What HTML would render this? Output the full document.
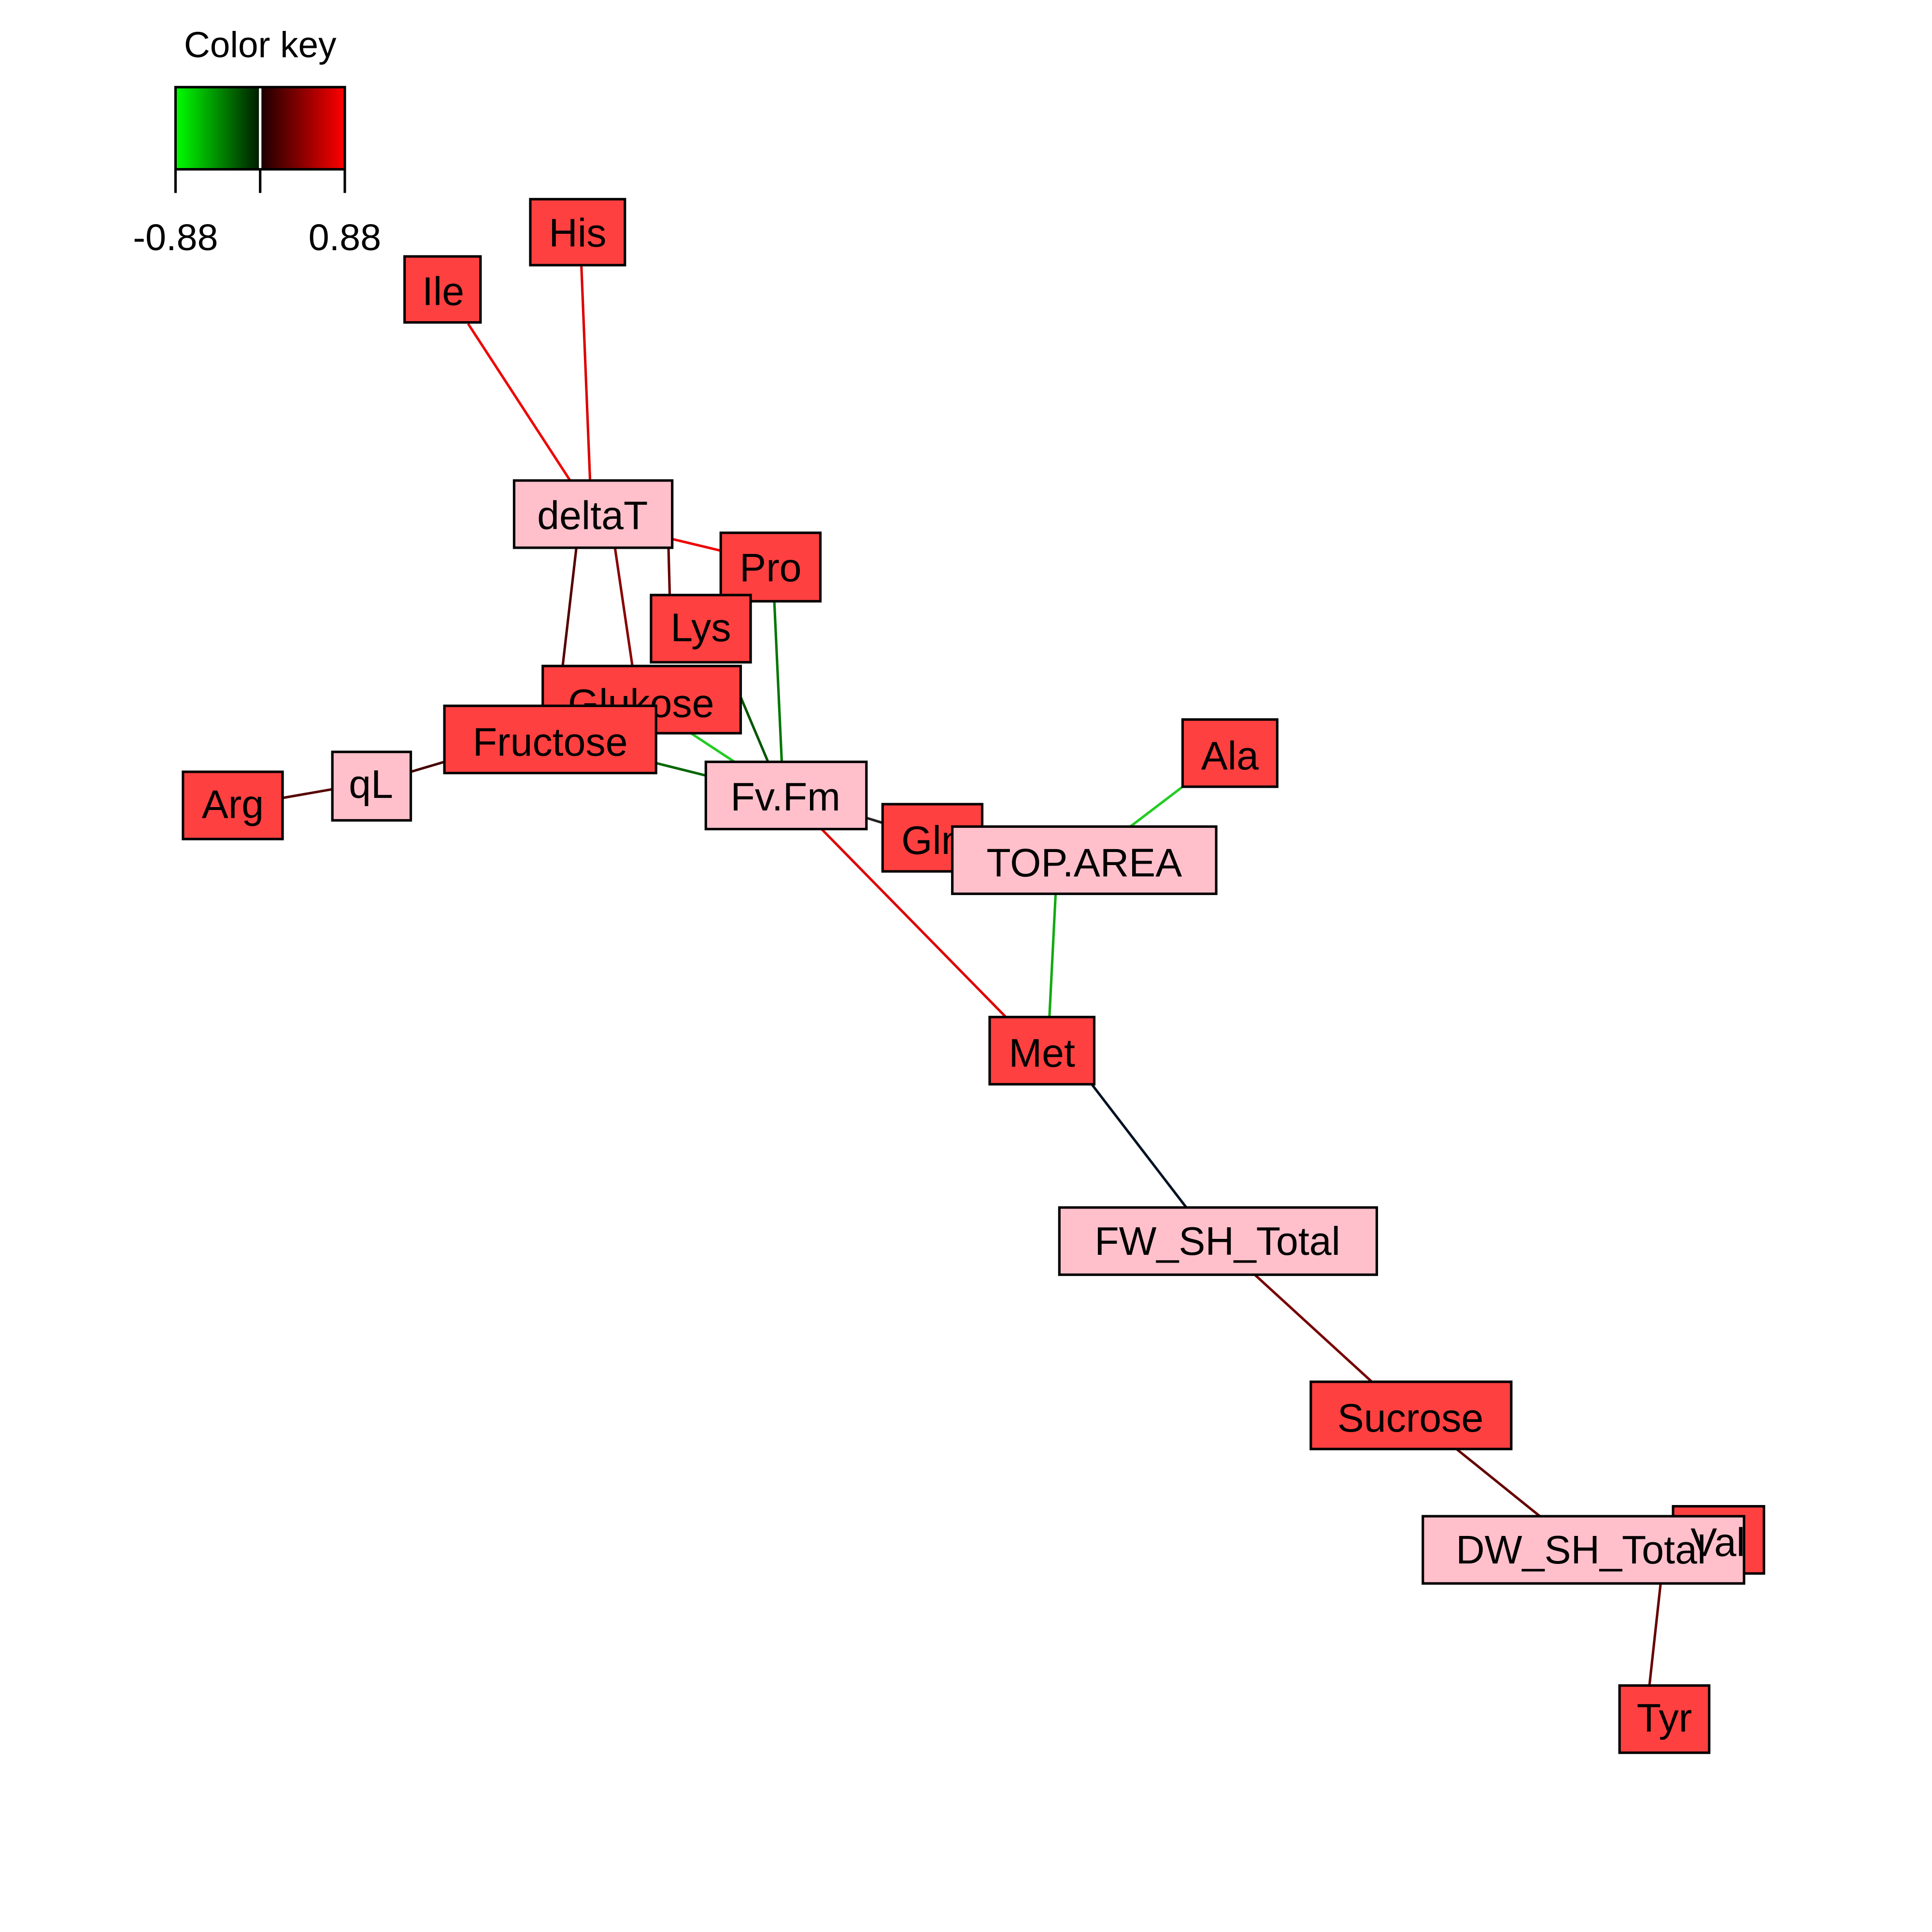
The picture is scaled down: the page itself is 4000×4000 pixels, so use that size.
<!DOCTYPE html>
<html><head><meta charset="utf-8"><style>html,body{margin:0;padding:0;background:#fff}svg{display:block}</style></head>
<body>
<svg width="4000" height="4000" viewBox="0 0 1552 1552" xmlns="http://www.w3.org/2000/svg" font-family="Liberation Sans, Arial, sans-serif">
<defs>
<linearGradient id="gg" x1="0" x2="1"><stop offset="0" stop-color="#00ff00"/><stop offset="1" stop-color="#001a00"/></linearGradient>
<linearGradient id="rg" x1="0" x2="1"><stop offset="0" stop-color="#1a0000"/><stop offset="1" stop-color="#ff0000"/></linearGradient>
</defs>
<text x="209" y="46" font-size="29" text-anchor="middle">Color key</text>
<rect x="141" y="70" width="68" height="66" fill="url(#gg)"/>
<rect x="209" y="70" width="68" height="66" fill="url(#rg)"/>
<line x1="209" y1="70" x2="209" y2="136" stroke="#fff" stroke-width="2"/>
<rect x="141" y="70" width="136" height="66" fill="none" stroke="#000" stroke-width="2"/>
<g stroke="#000" stroke-width="2"><line x1="141" y1="136" x2="141" y2="155"/><line x1="209" y1="136" x2="209" y2="155"/><line x1="277" y1="136" x2="277" y2="155"/></g>
<text x="141" y="201" font-size="30" text-anchor="middle">-0.88</text>
<text x="277" y="201" font-size="30" text-anchor="middle">0.88</text>
<g stroke-width="2" fill="none">
<line x1="376" y1="260" x2="458" y2="386" stroke="#e00"/>
<line x1="467" y1="213" x2="474" y2="386" stroke="#d00"/>
<line x1="540" y1="433" x2="590" y2="445" stroke="#e00"/>
<line x1="537" y1="440" x2="538" y2="478" stroke="#600"/>
<line x1="463" y1="440" x2="452" y2="535" stroke="#500"/>
<line x1="494" y1="440" x2="508" y2="535" stroke="#800"/>
<line x1="622" y1="483" x2="628" y2="612" stroke="#070"/>
<line x1="595" y1="560" x2="617" y2="612" stroke="#050"/>
<line x1="555" y1="589" x2="590" y2="612" stroke="#2c2"/>
<line x1="527" y1="613" x2="567" y2="623" stroke="#060"/>
<line x1="330" y1="620" x2="357" y2="612" stroke="#400"/>
<line x1="227" y1="641" x2="267" y2="634" stroke="#500"/>
<line x1="696" y1="657" x2="709" y2="661" stroke="#222"/>
<line x1="950" y1="632" x2="908" y2="664" stroke="#2c2"/>
<line x1="660" y1="666" x2="808" y2="817" stroke="#d00"/>
<line x1="848" y1="718" x2="843" y2="817" stroke="#1a1"/>
<line x1="877" y1="871" x2="953" y2="970" stroke="#012"/>
<line x1="1008" y1="1024" x2="1102" y2="1110" stroke="#700"/>
<line x1="1170" y1="1164" x2="1237" y2="1218" stroke="#600"/>
<line x1="1334" y1="1272" x2="1325" y2="1354" stroke="#600"/>
</g>
<g stroke="#000" stroke-width="2" font-size="32" text-anchor="middle">
<rect x="426" y="160" width="76" height="53" fill="#ff4040"/><text x="464" y="198" stroke="none">His</text>
<rect x="325" y="206" width="61" height="53" fill="#ff4040"/><text x="356" y="245" stroke="none">Ile</text>
<rect x="413" y="386" width="127" height="54" fill="#ffc0cb"/><text x="476" y="425" stroke="none">deltaT</text>
<rect x="579" y="428" width="80" height="55" fill="#ff4040"/><text x="619" y="467" stroke="none">Pro</text>
<rect x="523" y="478" width="80" height="54" fill="#ff4040"/><text x="563" y="515" stroke="none">Lys</text>
<rect x="436" y="535" width="159" height="54" fill="#ff4040"/><text x="515" y="576" stroke="none">Glukose</text>
<rect x="357" y="567" width="170" height="54" fill="#ff4040"/><text x="442" y="607" stroke="none">Fructose</text>
<rect x="147" y="620" width="80" height="54" fill="#ff4040"/><text x="187" y="657" stroke="none">Arg</text>
<rect x="267" y="604" width="63" height="55" fill="#ffc0cb"/><text x="298" y="641" stroke="none">qL</text>
<rect x="567" y="612" width="129" height="54" fill="#ffc0cb"/><text x="631" y="651" stroke="none">Fv.Fm</text>
<rect x="950" y="578" width="76" height="54" fill="#ff4040"/><text x="988" y="618" stroke="none">Ala</text>
<rect x="709" y="646" width="80" height="54" fill="#ff4040"/><text x="749" y="686" stroke="none">Gln</text>
<rect x="765" y="664" width="212" height="54" fill="#ffc0cb"/><text x="871" y="704" stroke="none">TOP.AREA</text>
<rect x="795" y="817" width="84" height="54" fill="#ff4040"/><text x="837" y="857" stroke="none">Met</text>
<rect x="851" y="970" width="255" height="54" fill="#ffc0cb"/><text x="978" y="1008" stroke="none">FW_SH_Total</text>
<rect x="1053" y="1110" width="161" height="54" fill="#ff4040"/><text x="1133" y="1150" stroke="none">Sucrose</text>
<rect x="1344" y="1210" width="73" height="54" fill="#ff4040"/>
<rect x="1143" y="1218" width="258" height="54" fill="#ffc0cb"/><text x="1270" y="1256" stroke="none">DW_SH_Total</text>
<text x="1380" y="1250" stroke="none">Val</text>
<rect x="1301" y="1354" width="72" height="54" fill="#ff4040"/><text x="1337" y="1391" stroke="none">Tyr</text>
</g>
</svg>
</body></html>
